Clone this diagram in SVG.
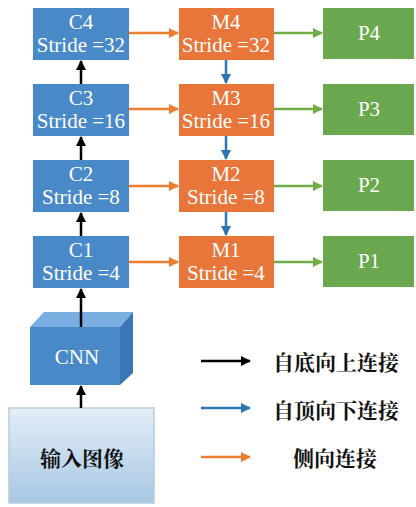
<svg xmlns="http://www.w3.org/2000/svg" width="416" height="507" viewBox="0 0 416 507">
<defs>
<style>
.c{fill:#4a89c8}
.m{fill:#e8763a}
.p{fill:#6aa84f}
.t{font-size:21px;fill:#fff;text-anchor:middle}
.cjk{font-size:21px;fill:#111;text-anchor:middle;font-weight:bold}
.k{stroke:#000;stroke-width:2.5;fill:none}
.b{stroke:#2e75b6;stroke-width:2.5;fill:none}
.o{stroke:#ed7d31;stroke-width:2.5;fill:none}
.g{stroke:#70ad47;stroke-width:2.5;fill:none}
</style>
<marker id="ak" markerWidth="10" markerHeight="10" refX="9" refY="5" orient="auto" markerUnits="userSpaceOnUse"><path d="M0,0 L10,5 L0,10 z" fill="#000"/></marker>
<marker id="ab" markerWidth="10" markerHeight="10" refX="9" refY="5" orient="auto" markerUnits="userSpaceOnUse"><path d="M0,0 L10,5 L0,10 z" fill="#2e75b6"/></marker>
<marker id="ao" markerWidth="10" markerHeight="10" refX="9" refY="5" orient="auto" markerUnits="userSpaceOnUse"><path d="M0,0 L10,5 L0,10 z" fill="#ed7d31"/></marker>
<marker id="ag" markerWidth="10" markerHeight="10" refX="9" refY="5" orient="auto" markerUnits="userSpaceOnUse"><path d="M0,0 L10,5 L0,10 z" fill="#70ad47"/></marker>
<linearGradient id="gin" x1="0" y1="0" x2="0" y2="1"><stop offset="0" stop-color="#e3eef8"/><stop offset="1" stop-color="#a7c7e3"/></linearGradient>
</defs>
<rect width="416" height="507" fill="#fff"/>

<g font-family="Liberation Serif, Times New Roman, serif">
<g id="C4"><rect class="c" x="33" y="8" width="96" height="52"/><text class="t" font-family="Liberation Serif" x="81" y="29">C4</text><text class="t" font-family="Liberation Serif" x="81" y="52">Stride =32</text></g>
<g id="C3"><rect class="c" x="33" y="84" width="96" height="52"/><text class="t" font-family="Liberation Serif" x="81" y="105">C3</text><text class="t" font-family="Liberation Serif" x="81" y="128">Stride =16</text></g>
<g id="C2"><rect class="c" x="33" y="160" width="96" height="52"/><text class="t" font-family="Liberation Serif" x="81" y="181">C2</text><text class="t" font-family="Liberation Serif" x="81" y="204">Stride =8</text></g>
<g id="C1"><rect class="c" x="33" y="236" width="96" height="52"/><text class="t" font-family="Liberation Serif" x="81" y="257">C1</text><text class="t" font-family="Liberation Serif" x="81" y="280">Stride =4</text></g>

<g id="M4"><rect class="m" x="179" y="8" width="95" height="52"/><text class="t" font-family="Liberation Serif" x="226" y="29">M4</text><text class="t" font-family="Liberation Serif" x="226" y="52">Stride =32</text></g>
<g id="M3"><rect class="m" x="179" y="84" width="95" height="52"/><text class="t" font-family="Liberation Serif" x="226" y="105">M3</text><text class="t" font-family="Liberation Serif" x="226" y="128">Stride =16</text></g>
<g id="M2"><rect class="m" x="179" y="160" width="95" height="52"/><text class="t" font-family="Liberation Serif" x="226" y="181">M2</text><text class="t" font-family="Liberation Serif" x="226" y="204">Stride =8</text></g>
<g id="M1"><rect class="m" x="179" y="236" width="95" height="52"/><text class="t" font-family="Liberation Serif" x="226" y="257">M1</text><text class="t" font-family="Liberation Serif" x="226" y="280">Stride =4</text></g>

<g id="P4"><rect class="p" x="323" y="8" width="91" height="51"/><text class="t" font-family="Liberation Serif" x="369" y="40">P4</text></g>
<g id="P3"><rect class="p" x="323" y="84" width="91" height="51"/><text class="t" font-family="Liberation Serif" x="369" y="116">P3</text></g>
<g id="P2"><rect class="p" x="323" y="160" width="91" height="51"/><text class="t" font-family="Liberation Serif" x="369" y="192">P2</text></g>
<g id="P1"><rect class="p" x="323" y="236" width="91" height="51"/><text class="t" font-family="Liberation Serif" x="369" y="268">P1</text></g>

<g id="CNN">
<polygon points="30,327 44,312 133,312 120,327" fill="#7aaee0"/>
<polygon points="120,327 133,312 133,373 120,385" fill="#3a75b5"/>
<rect x="30" y="327" width="90" height="58" fill="#4a89c8"/>
<text class="t" font-family="Liberation Serif" x="77" y="364">CNN</text>
</g>
</g>

<g id="input">
<rect x="9" y="408" width="145" height="95" fill="url(#gin)" stroke="#b9cadb" stroke-width="1.5"/>
<text class="cjk" font-family="Noto Serif CJK SC, Noto Sans CJK SC, serif" x="82" y="466">输入图像</text>
</g>

<g id="connectors">
<line class="k" x1="81" y1="84" x2="81" y2="61" marker-end="url(#ak)"/>
<line class="k" x1="81" y1="160" x2="81" y2="137" marker-end="url(#ak)"/>
<line class="k" x1="81" y1="236" x2="81" y2="213" marker-end="url(#ak)"/>
<line class="k" x1="81" y1="327" x2="81" y2="289" marker-end="url(#ak)"/>
<line class="k" x1="81" y1="408" x2="81" y2="386" marker-end="url(#ak)"/>

<line class="b" x1="226" y1="60" x2="226" y2="83" marker-end="url(#ab)"/>
<line class="b" x1="226" y1="136" x2="226" y2="159" marker-end="url(#ab)"/>
<line class="b" x1="226" y1="212" x2="226" y2="235" marker-end="url(#ab)"/>

<line class="o" x1="129" y1="33" x2="178" y2="33" marker-end="url(#ao)"/>
<line class="o" x1="129" y1="109" x2="178" y2="109" marker-end="url(#ao)"/>
<line class="o" x1="129" y1="186" x2="178" y2="186" marker-end="url(#ao)"/>
<line class="o" x1="129" y1="262" x2="178" y2="262" marker-end="url(#ao)"/>

<line class="g" x1="274" y1="33" x2="322" y2="33" marker-end="url(#ag)"/>
<line class="g" x1="274" y1="109" x2="322" y2="109" marker-end="url(#ag)"/>
<line class="g" x1="274" y1="186" x2="322" y2="186" marker-end="url(#ag)"/>
<line class="g" x1="274" y1="262" x2="322" y2="262" marker-end="url(#ag)"/>
</g>

<g id="legend">
<line class="k" x1="201" y1="361" x2="250" y2="361" marker-end="url(#ak)"/>
<line class="b" x1="201" y1="408" x2="250" y2="408" marker-end="url(#ab)"/>
<line class="o" x1="201" y1="457" x2="250" y2="457" marker-end="url(#ao)"/>
<text class="cjk" font-family="Noto Serif CJK SC, Noto Sans CJK SC, serif" x="336" y="370">自底向上连接</text>
<text class="cjk" font-family="Noto Serif CJK SC, Noto Sans CJK SC, serif" x="336" y="418">自顶向下连接</text>
<text class="cjk" font-family="Noto Serif CJK SC, Noto Sans CJK SC, serif" x="335" y="466">侧向连接</text>
</g>
</svg>
